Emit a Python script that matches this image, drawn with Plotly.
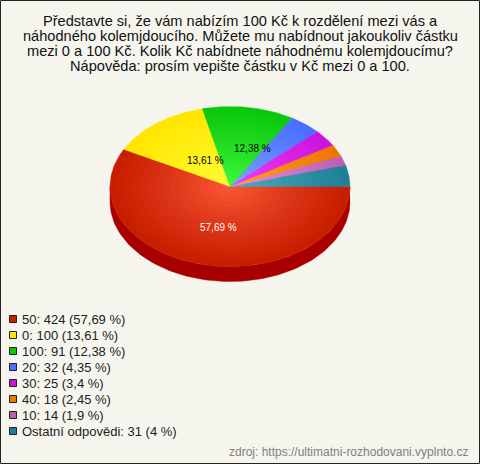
import numpy as np
import plotly.graph_objects as go

categories = ["50", "0", "100", "20", "30", "40", "10", "Ostatní odpovědi"]
counts = [424, 100, 91, 32, 25, 18, 14, 31]
percent_labels = ["57,69 %", "13,61 %", "12,38 %", "4,35 %", "3,4 %", "2,45 %", "1,9 %", "4 %"]
edge_colors = ["#c81e00", "#ffe600", "#0cc80c", "#4a6eff", "#cc14dc", "#ee7700", "#bb5fb5", "#1f7f96"]
center_colors = ["#ff5c3c", "#ffff40", "#44ff44", "#88a8ff", "#ff40ff", "#ffa838", "#f098e8", "#58b4c4"]
title_lines = [
    "Představte si, že vám nabízím 100 Kč k rozdělení mezi vás a",
    "náhodného kolemjdoucího. Můžete mu nabídnout jakoukoliv částku",
    "mezi 0 a 100 Kč. Kolik Kč nabídnete náhodnému kolemjdoucímu?",
    "Nápověda: prosím vepište částku v Kč mezi 0 a 100.",
]
source_text = "zdroj: https://ultimatni-rozhodovani.vyplnto.cz"

W, H = 480, 464
BG = "#f5f5ee"
FONT = "Liberation Sans, Arial, sans-serif"
CX, CY, RX, RY, DEPTH = 230, 186.5, 120, 80, 15
RINGS = 16

def hex_rgb(h):
    return np.array([int(h[i:i + 2], 16) for i in (1, 3, 5)], float)

def mix(a, b, t):
    c = hex_rgb(a) * (1 - t) + hex_rgb(b) * t
    return "rgb(%d,%d,%d)" % tuple(c.round())

fig = go.Figure()
total = sum(counts)
edges = np.cumsum([0] + counts) / total * 2 * np.pi

# side wall (front half of the rim)
th = np.linspace(0, np.pi, 120)
sx = np.concatenate([CX + RX * np.cos(th), (CX + RX * np.cos(th))[::-1]])
sy = np.concatenate([CY + RY * np.sin(th) + DEPTH, (CY + RY * np.sin(th))[::-1]])
fig.add_trace(go.Scatter(x=sx, y=sy, mode="lines", fill="toself", fillcolor="#a80000",
                         line=dict(color="#a80000", width=0.5), hoverinfo="skip"))

# slices: concentric layers give the radial shading
for ring in range(RINGS):
    f = 1 - ring / RINGS
    for i in range(len(counts)):
        a = np.linspace(edges[i], edges[i + 1], max(3, int((edges[i + 1] - edges[i]) * 60)))
        x = np.concatenate([[CX], CX + f * RX * np.cos(a), [CX]])
        y = np.concatenate([[CY], CY + f * RY * np.sin(a), [CY]])
        col = mix(center_colors[i], edge_colors[i], f ** 0.8)
        fig.add_trace(go.Scatter(x=x, y=y, mode="lines", fill="toself", fillcolor=col,
                                 line=dict(color=col, width=0.4), hoverinfo="skip"))

# legend squares
legend_y = [319 + 16 * i for i in range(len(counts))]
fig.add_trace(go.Scatter(x=[13] * len(counts), y=legend_y, mode="markers", hoverinfo="skip",
                         marker=dict(symbol="square", size=7, color=edge_colors,
                                     line=dict(color="#222222", width=1))))

ann = []
for i, line in enumerate(title_lines):
    ann.append(dict(x=240, y=20.5 + 15.2 * i, text=line, showarrow=False, xanchor="center",
                    yanchor="middle", font=dict(family=FONT, size=14.6, color="#111111")))
for i, (c, n, p) in enumerate(zip(categories, counts, percent_labels)):
    ann.append(dict(x=20, y=legend_y[i] + 0.5, text=f"{c}: {n} ({p})", showarrow=False, xanchor="left",
                    yanchor="middle", font=dict(family=FONT, size=13, color="#222222")))
slice_label_pos = [(218, 227, "white"), (205, 160, "black"), (252, 148, "black")]
for p, (x, y, c) in zip(percent_labels, slice_label_pos):
    ann.append(dict(x=x, y=y, text=p, showarrow=False, xanchor="center", yanchor="middle",
                    font=dict(family=FONT, size=10, color=c)))
ann.append(dict(x=470, y=452, text=source_text, showarrow=False, xanchor="right", yanchor="middle",
                font=dict(family=FONT, size=12, color="#808080")))

fig.update_layout(
    width=W, height=H, showlegend=False, margin=dict(l=0, r=0, t=0, b=0),
    paper_bgcolor=BG, plot_bgcolor=BG, annotations=ann,
    xaxis=dict(range=[0, W], visible=False, fixedrange=True),
    yaxis=dict(range=[H, 0], visible=False, fixedrange=True),
    shapes=[dict(type="rect", x0=0.5, y0=0.5, x1=W - 0.5, y1=H - 0.5,
                 line=dict(color="#222222", width=1), layer="above")],
)
fig.write_html("out.html", config=dict(displayModeBar=False),
               post_script="document.body.style.margin='0';document.documentElement.style.overflow='hidden';")
